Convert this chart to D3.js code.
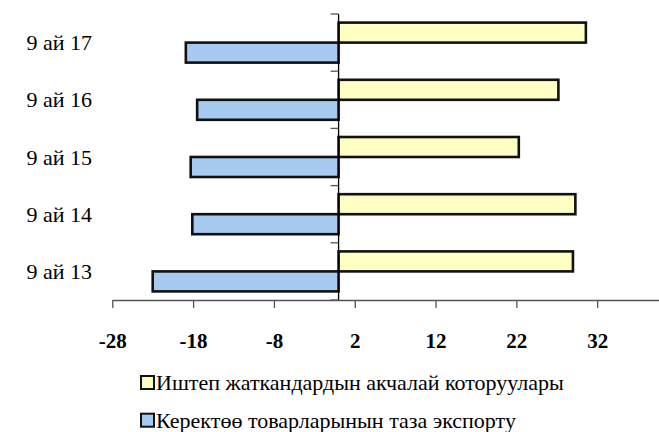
<!DOCTYPE html>
<html>
<head>
<meta charset="utf-8">
<script src="https://cdn.jsdelivr.net/npm/d3@7/dist/d3.min.js"></script>
</head>
<body style="margin:0">
<div id="chart"></div>
<script>
const categories = ['9 ай 17', '9 ай 16', '9 ай 15', '9 ай 14', '9 ай 13'];
const remittances = [30.6, 27.2, 22.3, 29.3, 29.0];
const netExports = [-18.9, -17.5, -18.3, -18.1, -23.0];
const seriesNames = ['Иштеп жаткандардын акчалай которуулары', 'Керектөө товарларынын таза экспорту'];
const seriesColors = ['#ffffc4', '#a6caf0'];
const tickValues = [-28, -18, -8, 2, 12, 22, 32];

const width = 659;
const height = 432;
const margin = { top: 14, bottom: 300 };
const fontName = 'Liberation Serif';

const svg = d3.select('#chart')
  .append('svg')
  .attr('width', width)
  .attr('height', height);

const x = d3.scaleLinear().domain([-28, 42]).range([112.3, 678]);
const y = d3.scaleBand().domain(categories).range([margin.top, margin.bottom]).padding(0);
const sub = d3.scaleBand().domain([0, 1]).range([0, y.bandwidth()]).paddingInner(0).paddingOuter(0.43);

const rows = categories.map((c, i) => ({ c, vals: [remittances[i], netExports[i]] }));

// bars
const g = svg.append('g');
rows.forEach(r => {
  r.vals.forEach((v, s) => {
    g.append('rect')
      .attr('x', x(Math.min(0, v)))
      .attr('y', y(r.c) + sub(s))
      .attr('width', Math.abs(x(v) - x(0)))
      .attr('height', sub.bandwidth())
      .attr('fill', seriesColors[s])
      .attr('stroke', '#111')
      .attr('stroke-width', 2.6);
  });
});

// x axis
const xAxis = svg.append('g')
  .attr('transform', `translate(0, ${margin.bottom})`)
  .call(d3.axisBottom(x).tickValues(tickValues).tickSize(8).tickSizeOuter(0).tickFormat(d => String(d)));
xAxis.attr('font-family', null).attr('font-size', null);
xAxis.select('.domain').attr('stroke', '#555').attr('stroke-width', 1.3);
xAxis.selectAll('.tick line').attr('stroke', '#555').attr('stroke-width', 1.3);
xAxis.selectAll('.tick text')
  .attr('y', 48)
  .attr('dy', 0)
  .attr('fill', '#000')
  .attr('font-size', 21)
  .attr('font-weight', 'bold')
  .style('font-family', () => `'${fontName}'`);

// y axis at zero
const yAxis = svg.append('g')
  .attr('transform', `translate(${x(0)}, 0)`);
yAxis.append('line')
  .attr('y1', margin.top).attr('y2', margin.bottom)
  .attr('stroke', '#000').attr('stroke-width', 1.3);
const bounds = categories.map(c => y(c)).concat([margin.bottom]);
yAxis.selectAll('line.tk')
  .data(bounds)
  .enter()
  .append('line')
  .attr('class', 'tk')
  .attr('x1', -8).attr('x2', 0)
  .attr('y1', d => d).attr('y2', d => d)
  .attr('stroke', '#555').attr('stroke-width', 1.3);

// category labels
svg.selectAll('text.cat')
  .data(categories)
  .enter()
  .append('text')
  .attr('class', 'cat')
  .attr('x', 92)
  .attr('y', d => y(d) + y.bandwidth() / 2 + 7.5)
  .attr('text-anchor', 'end')
  .attr('font-size', 22)
  .style('font-family', () => `'${fontName}'`)
  .text(d => d);

// legend
const legend = svg.selectAll('g.leg')
  .data(seriesNames)
  .enter()
  .append('g')
  .attr('class', 'leg')
  .attr('transform', (d, i) => `translate(141, ${376 + i * 37.7})`);
legend.append('rect')
  .attr('width', 13).attr('height', 13)
  .attr('fill', (d, i) => seriesColors[i])
  .attr('stroke', '#111').attr('stroke-width', 2);
legend.append('text')
  .attr('x', 15)
  .attr('y', 14)
  .attr('font-size', 22)
  .style('font-family', () => `'${fontName}'`)
  .text(d => d);
</script>
</body>
</html>
